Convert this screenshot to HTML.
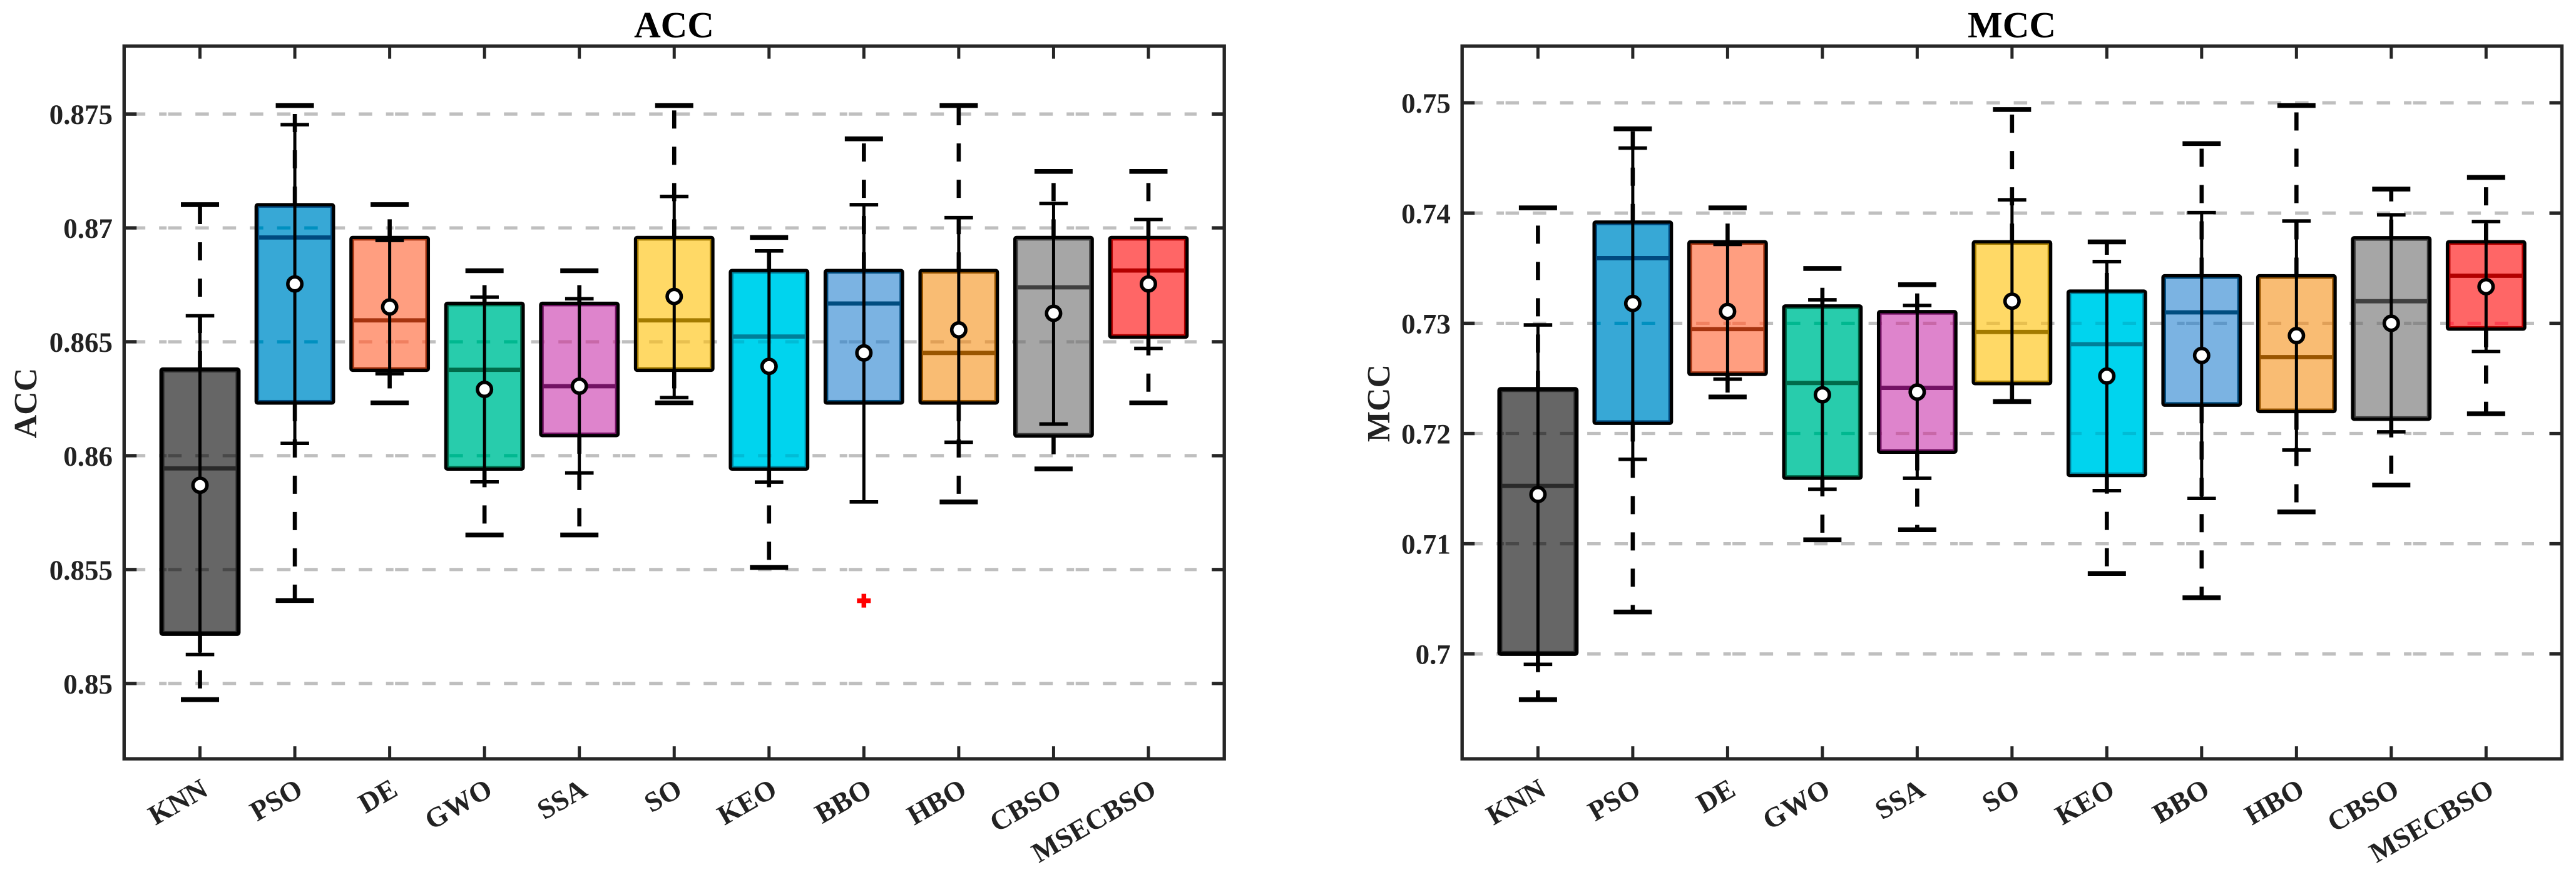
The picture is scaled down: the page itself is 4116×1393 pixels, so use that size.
<!DOCTYPE html>
<html lang="en">
<head>
<meta charset="utf-8">
<title>ACC and MCC box plots</title>
<style>
html,body{margin:0;padding:0;background:#fff;}
body{width:4116px;height:1393px;overflow:hidden;}
svg{display:block;}
text{font-family:"Liberation Serif","Times New Roman",serif;font-weight:bold;text-rendering:geometricPrecision;}
</style>
</head>
<body>
<svg id="figure" xmlns="http://www.w3.org/2000/svg" width="4116" height="1393" viewBox="0 0 4116 1393">
  <rect x="0" y="0" width="4116" height="1393" fill="#ffffff"/>
  <defs id="clip-defs"></defs>
  <g id="panel-acc"></g>
  <g id="panel-mcc"></g>
  <text x="1077" y="59.5" font-size="59" text-anchor="middle" fill="#000">ACC</text>
  <text x="3214.5" y="59.5" font-size="59" text-anchor="middle" fill="#000">MCC</text>
  <text transform="translate(58 644) rotate(-90)" font-size="52" text-anchor="middle" fill="#222">ACC</text>
  <text transform="translate(2220 644) rotate(-90)" font-size="52" text-anchor="middle" fill="#222">MCC</text>
</svg>
<script>
const categories = ['KNN','PSO','DE','GWO','SSA','SO','KEO','BBO','HBO','CBSO','MSECBSO'];

const accTickValues = [0.85,0.855,0.86,0.865,0.87,0.875];
const accTickLabels = ['0.85','0.855','0.86','0.865','0.87','0.875'];
const accOuterHigh = [0.87102,0.87537,0.87102,0.86812,0.86812,0.87537,0.86958,0.87391,0.87537,0.87248,0.87248];
const accInnerHigh = [0.86614,0.87453,0.86945,0.86696,0.86689,0.87138,0.86899,0.87102,0.87045,0.87107,0.87037];
const accQ3 = [0.86379,0.87102,0.86958,0.86669,0.86669,0.86958,0.86813,0.86813,0.86813,0.86958,0.86958];
const accMedian = [0.85944,0.86958,0.86594,0.86377,0.86305,0.86594,0.86523,0.86668,0.86451,0.86739,0.86813];
const accMean = [0.8587,0.86754,0.86653,0.86291,0.86305,0.86699,0.86392,0.86451,0.86552,0.86625,0.86754];
const accQ1 = [0.85217,0.86231,0.86375,0.85941,0.86088,0.86375,0.85941,0.86231,0.86231,0.86086,0.8652];
const accInnerLow = [0.85127,0.86054,0.8636,0.85885,0.85924,0.86255,0.85884,0.85797,0.86059,0.86139,0.86471];
const accOuterLow = [0.84929,0.85364,0.86232,0.85652,0.85652,0.86232,0.85509,null,0.85797,0.85942,0.86232];
const accOutliers = [null,null,null,null,null,null,null,0.85363,null,null,null];

const mccTickValues = [0.70,0.71,0.72,0.73,0.74,0.75];
const mccTickLabels = ['0.7','0.71','0.72','0.73','0.74','0.75'];
const mccOuterHigh = [0.74047,0.74764,0.74047,0.73497,0.7335,0.74939,0.73738,0.7463,0.74975,0.74217,0.74323];
const mccInnerHigh = [0.72985,0.74589,0.73715,0.73213,0.73162,0.7412,0.7356,0.74004,0.73928,0.73984,0.73923];
const mccQ3 = [0.72404,0.73918,0.7374,0.73157,0.73106,0.7374,0.73292,0.73431,0.73431,0.73776,0.7374];
const mccMedian = [0.71525,0.73591,0.72947,0.72458,0.72414,0.72921,0.7281,0.73099,0.72693,0.732,0.73431];
const mccMean = [0.71447,0.7318,0.73107,0.72351,0.72376,0.732,0.72521,0.72708,0.72888,0.73,0.73332];
const mccQ1 = [0.70,0.72092,0.72536,0.71594,0.7183,0.72452,0.71619,0.72257,0.72199,0.72129,0.72947];
const mccInnerLow = [0.69906,0.71766,0.72493,0.71495,0.71594,0.72295,0.71482,0.71411,0.7185,0.72015,0.72744];
const mccOuterLow = [0.69586,0.70381,0.72331,0.71036,0.71127,0.7229,0.7073,0.7051,0.71289,0.71533,0.72179];
const mccOutliers = [null,null,null,null,null,null,null,null,null,null,null];

const fillColors = ['#666666','#37a8d6','#ff9e80','#28ccac','#de84cc','#ffd966','#00d4ee','#7bb3e2','#f9bc73','#a6a6a6','#ff6666'];
const edgeColors = ['#2a2a2a','#004a80','#a63410','#006b4a','#731264','#a37b00','#007f99','#004d80','#995500','#404040','#b30000'];
const gridInBox  = ['#484848','#0090c0','#f08060','#00b890','#c868a8','#e8c050','#00bcd6','#6098c8','#e0a058','#8c8c8c','#ff4050'];

const SVGNS = 'http://www.w3.org/2000/svg';
const GRID_DASH = '21.5 22 21.5 22 21.5 22 21.5 22 21.5 22 21.5 22 21.5 22 21.5 22 12 2.5';
const FRAME_COLOR = '#262626';

function make(tag, parent, props) {
  const node = document.createElementNS(SVGNS, tag);
  for (const key in props) node.setAttribute(key, props[key]);
  parent.appendChild(node);
  return node;
}

function drawPanel(cfg) {
  const g = document.getElementById(cfg.groupId);
  const defs = document.getElementById('clip-defs');
  const L = cfg.left, R = cfg.right, T = cfg.top, B = cfg.bottom;
  const xScale = p => L + (p - 0.2) / 11.6 * (R - L);
  const yScale = v => B - (v - cfg.yMin) / (cfg.yMax - cfg.yMin) * (B - T);
  const halfW = 61.8;

  const clip = make('clipPath', defs, {id: cfg.key + '-frame-clip'});
  make('rect', clip, {x: L, y: T, width: R - L, height: B - T});

  // grid
  const gridGroup = make('g', g, {'clip-path': 'url(#' + cfg.key + '-frame-clip)'});
  
  
  cfg.ticks.forEach((v, k) => {
    const el = make('line', gridGroup, {x1: cfg.gridStart, x2: cfg.gridEnd, y1: yScale(v), y2: yScale(v), stroke: '#bfbfbf', 'stroke-width': 5.2, 'stroke-dasharray': GRID_DASH});
    
    
  });

  // boxes
  categories.forEach((cat, i) => {
    const cx = xScale(i + 1);
    const box = make('g', g, {});
    
    

    const yQ3 = yScale(cfg.q3[i]), yQ1 = yScale(cfg.q1[i]);
    const rectX = cx - halfW, rectW = 2 * halfW, rectH = yQ1 - yQ3;

    const fill = make('rect', box, {x: rectX, y: yQ3, width: rectW, height: rectH, fill: fillColors[i]});
    
    

    const boxClip = make('clipPath', defs, {id: cfg.key + '-box-clip-' + i});
    make('rect', boxClip, {x: rectX, y: yQ3, width: rectW, height: rectH});
    const inner = make('g', box, {'clip-path': 'url(#' + cfg.key + '-box-clip-' + i + ')'});
    cfg.ticks.forEach(v => {
      make('line', inner, {x1: cfg.gridStart, x2: cfg.gridEnd, y1: yScale(v), y2: yScale(v), stroke: gridInBox[i], 'stroke-width': 5.2, 'stroke-dasharray': GRID_DASH});
    });

    make('rect', box, {x: rectX + 3.4, y: yQ3 + 3.4, width: rectW - 6.8, height: Math.max(rectH - 6.8, 1), fill: 'none', stroke: edgeColors[i], 'stroke-width': 3});

    const median = make('line', box, {x1: rectX, x2: rectX + rectW, y1: yScale(cfg.median[i]), y2: yScale(cfg.median[i]), stroke: edgeColors[i], 'stroke-width': 6.8});
    
    

    const outline = make('rect', box, {x: rectX, y: yQ3, width: rectW, height: rectH, rx: 2.5, ry: 2.5, fill: 'none', stroke: '#000', 'stroke-width': i === 0 ? 6.2 : 5.2});
    
    

    // dashed outer whiskers
    const outerHi = yScale(cfg.outerHigh[i]);
    const wHi = make('line', box, {x1: cx, x2: cx, y1: yQ3, y2: outerHi, stroke: '#000', 'stroke-width': 6.6, 'stroke-dasharray': '29 29'});
    
    

    const capHi = make('line', box, {x1: cx - 30.5, x2: cx + 30.5, y1: outerHi, y2: outerHi, stroke: '#000', 'stroke-width': 7.6});
    
    

    if (cfg.outerLow[i] !== null) {
      const outerLo = yScale(cfg.outerLow[i]);
      const wLo = make('line', box, {x1: cx, x2: cx, y1: yQ1, y2: outerLo, stroke: '#000', 'stroke-width': 6.6, 'stroke-dasharray': '29 29'});
      
      

      const capLo = make('line', box, {x1: cx - 30.5, x2: cx + 30.5, y1: outerLo, y2: outerLo, stroke: '#000', 'stroke-width': 7.6});
      
      
    }

    // solid inner range
    const innerHi = yScale(cfg.innerHigh[i]), innerLo = yScale(cfg.innerLow[i]);
    const range = make('line', box, {x1: cx, x2: cx, y1: innerHi, y2: innerLo, stroke: '#000', 'stroke-width': 5});
    
    

    const capIH = make('line', box, {x1: cx - 22.8, x2: cx + 22.8, y1: innerHi, y2: innerHi, stroke: '#000', 'stroke-width': 5.6});
    
    

    const capIL = make('line', box, {x1: cx - 22.8, x2: cx + 22.8, y1: innerLo, y2: innerLo, stroke: '#000', 'stroke-width': 5.6});
    
    

    // mean
    const mean = make('circle', box, {cx: cx, cy: yScale(cfg.mean[i]), r: 11.2, fill: '#fff', stroke: '#000', 'stroke-width': 5.6});
    
    

    // outlier
    if (cfg.outliers[i] !== null) {
      const oy = yScale(cfg.outliers[i]);
      const outlier = make('path', box, {d: 'M' + (cx - 11) + ' ' + oy + 'H' + (cx + 11) + 'M' + cx + ' ' + (oy - 11) + 'V' + (oy + 11), stroke: '#ff0000', 'stroke-width': 7.5, fill: 'none'});
      
      
    }
  });

  // ticks
  const TL = 20;
  cfg.ticks.forEach((v, k) => {
    const y = yScale(v);
    const t1 = make('line', g, {x1: L, x2: L + TL, y1: y, y2: y, stroke: FRAME_COLOR, 'stroke-width': 5.4});
    
    

    const t2 = make('line', g, {x1: R, x2: R - TL, y1: y, y2: y, stroke: FRAME_COLOR, 'stroke-width': 5.4});
    
    

    const label = make('text', g, {x: L - 18.3, y: y + 16, 'font-size': 45, 'text-anchor': 'end', fill: '#222'});
    label.textContent = cfg.tickLabels[k];
    
    
  });

  categories.forEach((cat, i) => {
    const x = xScale(i + 1);
    const t1 = make('line', g, {x1: x, x2: x, y1: B, y2: B - TL, stroke: FRAME_COLOR, 'stroke-width': 5});
    
    

    const t2 = make('line', g, {x1: x, x2: x, y1: T, y2: T + TL, stroke: FRAME_COLOR, 'stroke-width': 5});
    
    

    const lx = x + 15.5, ly = 1269;
    const label = make('text', g, {x: lx, y: ly, 'font-size': 45, 'text-anchor': 'end', fill: '#222', transform: 'rotate(-30 ' + lx + ' ' + ly + ')'});
    label.textContent = cat;
    
    
  });

  const frame = make('rect', g, {x: L, y: T, width: R - L, height: B - T, fill: 'none', stroke: FRAME_COLOR, 'stroke-width': 5.4});
  
  
}

drawPanel({
  key: 'acc', groupId: 'panel-acc',
  left: 198.3, right: 1956.2, top: 73.7, bottom: 1212.2,
  yMin: 0.84669, yMax: 0.87798,
  gridStart: -93.8, gridEnd: 1912,
  ticks: accTickValues, tickLabels: accTickLabels,
  outerHigh: accOuterHigh, innerHigh: accInnerHigh, q3: accQ3, median: accMedian,
  mean: accMean, q1: accQ1, innerLow: accInnerLow, outerLow: accOuterLow, outliers: accOutliers
});

drawPanel({
  key: 'mcc', groupId: 'panel-mcc',
  left: 2336.2, right: 4093.5, top: 73.7, bottom: 1212.2,
  yMin: 0.69049, yMax: 0.75514,
  gridStart: 2043.1, gridEnd: 4049,
  ticks: mccTickValues, tickLabels: mccTickLabels,
  outerHigh: mccOuterHigh, innerHigh: mccInnerHigh, q3: mccQ3, median: mccMedian,
  mean: mccMean, q1: mccQ1, innerLow: mccInnerLow, outerLow: mccOuterLow, outliers: mccOutliers
});
</script>
</body>
</html>
